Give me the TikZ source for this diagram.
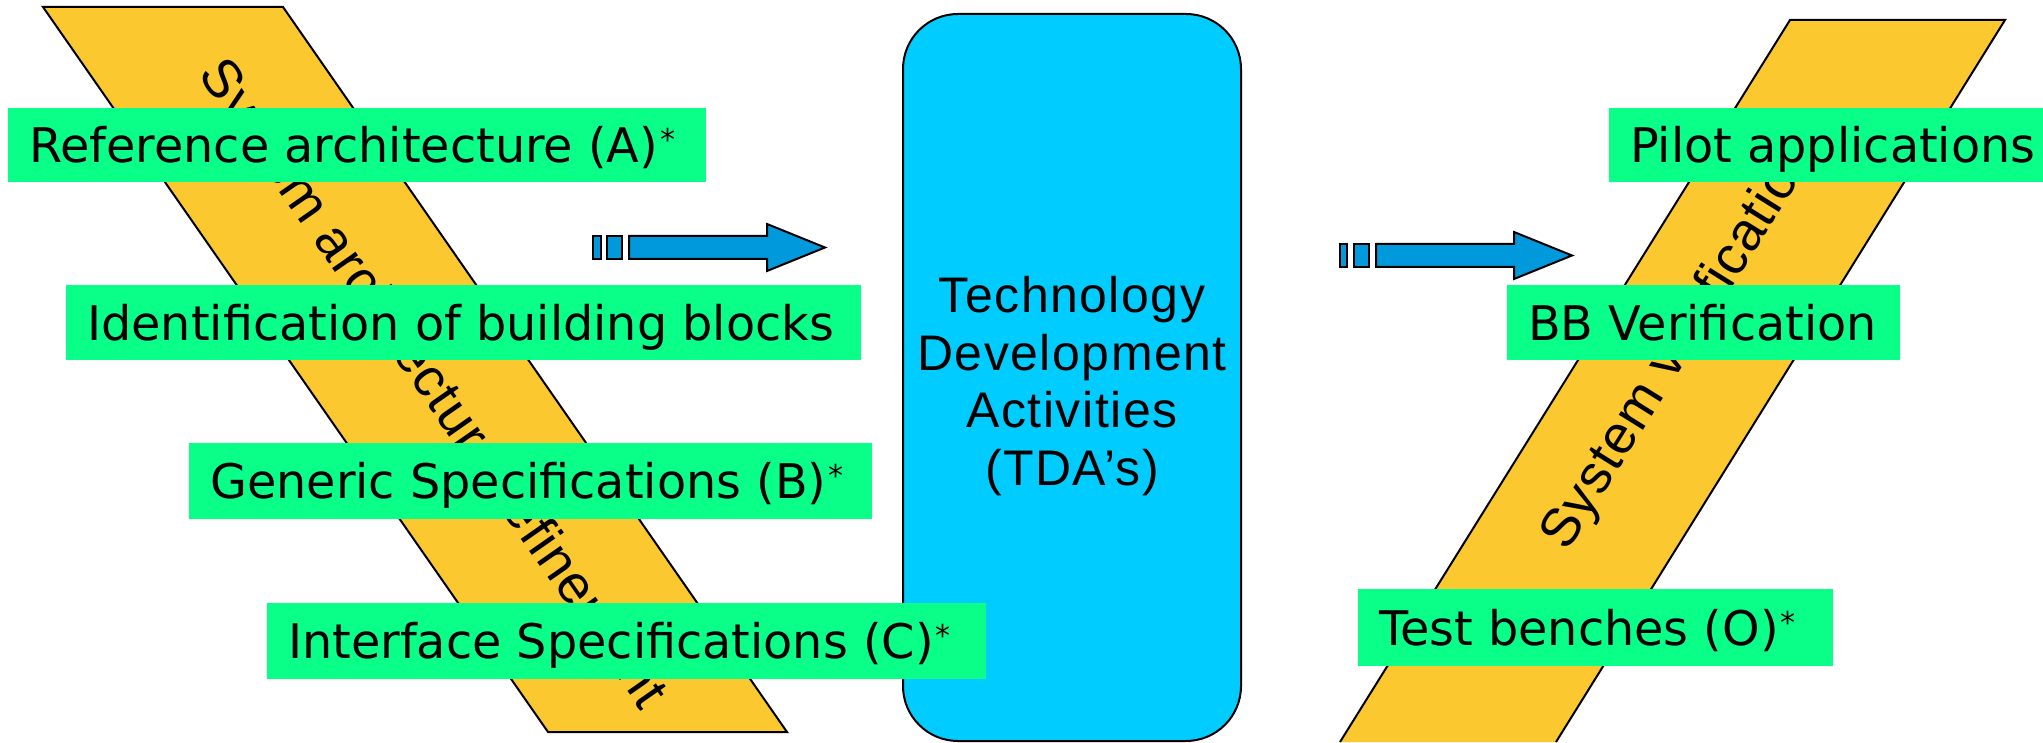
\documentclass[tikz,border=0pt]{standalone}
\usepackage{fontspec}
\newfontfamily\labfont{DejaVu Sans}
\newfontfamily\tdafont[LetterSpace=3]{Liberation Sans}
\newfontfamily\bandfont[LetterSpace=2]{Liberation Sans}
\definecolor{bandyellow}{RGB}{252,200,48}
\definecolor{labgreen}{RGB}{10,255,136}
\definecolor{tdablue}{RGB}{0,204,255}
\definecolor{arrowblue}{RGB}{0,153,219}
% raised asterisk after a label
\newcommand\labstar{\kern2pt\raisebox{12pt}{\fontsize{30pt}{30pt}\selectfont *}}
\begin{document}
\begin{tikzpicture}[x=1pt, y=1pt,
  band/.style={fill=bandyellow, draw=black, line width=2pt, line join=miter},
  bandtext/.style={inner sep=0pt, font={\bandfont\fontsize{54pt}{60pt}\selectfont}},
  tdabox/.style={draw=black, fill=tdablue, line width=2pt, rounded corners=55pt,
    minimum width=338pt, minimum height=727pt},
  tdatext/.style={inner sep=0pt, align=center,
    font={\tdafont\fontsize{50pt}{57.5pt}\selectfont}},
  lab/.style={fill=labgreen, anchor=north west, inner xsep=21pt, inner ysep=0pt,
    text height=34.8pt, text depth=0pt,
    font={\labfont\fontsize{47.7pt}{57pt}\selectfont}},
  fatarrow/.style={fill=arrowblue, draw=black, line width=2pt, line join=miter}]

\fill[white] (0,0) rectangle (2043,742);
\useasboundingbox (0,0) rectangle (2043,742);

% left band: architecture refinement
\draw[band] (43,735) -- (283,735) -- (787,10) -- (548,10) -- cycle;
\node[bandtext, rotate=-55.14] (refine) at (431,357) {System architecture refinement};

% right band: verification (runs off the bottom edge)
\fill[bandyellow] (1340,0) -- (1790,722) -- (2005,722) -- (1556,0) -- cycle;
\draw[line width=2pt, line join=miter] (1340,0) -- (1790,722) -- (2005,722) -- (1556,0);
\node[bandtext, rotate=58.07] (verif) at (1680,397) {System verification};

% central activity block
\node[tdabox] (tda) at (1072,364.5) {};
\node[tdatext] (tdalabel) at (1072,356) {Technology\\Development\\Activities\\(TDA’s)};

% block arrows with trailing dashes
\filldraw[fatarrow] (593,483) rectangle (601,506);
\filldraw[fatarrow] (607,483) rectangle (622,506);
\filldraw[fatarrow] (629,483) -- (767,483) -- (767,471) -- (825,494.5)
  -- (767,518) -- (767,506) -- (629,506) -- cycle;

\filldraw[fatarrow] (1340,475) rectangle (1347,498);
\filldraw[fatarrow] (1354,475) rectangle (1369,498);
\filldraw[fatarrow] (1376,475) -- (1514,475) -- (1514,463) -- (1572,486.5)
  -- (1514,510) -- (1514,498) -- (1376,498) -- cycle;

% labels on the left
\node[lab, minimum height=74pt] (refarch) at (8,634)
  {\makebox[656pt][l]{Reference architecture (A)\labstar}};
\node[lab, minimum height=75pt] (ident) at (66,457)
  {\makebox[753pt][l]{Identification of building blocks}};
\node[lab, minimum height=76pt] (generic) at (189,299)
  {\makebox[641pt][l]{Generic Specifications (B)\labstar}};
\node[lab, minimum height=76pt] (iface) at (267,139)
  {\makebox[677pt][l]{Interface Specifications (C)\labstar}};

% labels on the right
\node[lab, minimum height=74pt] (pilot) at (1609,634)
  {\makebox[392pt][l]{Pilot applications}};
\node[lab, minimum height=75pt] (bbver) at (1507,457)
  {\makebox[351pt][l]{BB Verification}};
\node[lab, minimum height=77pt] (bench) at (1358,153)
  {\makebox[433pt][l]{Test benches (O)\labstar}};
\end{tikzpicture}
\end{document}
